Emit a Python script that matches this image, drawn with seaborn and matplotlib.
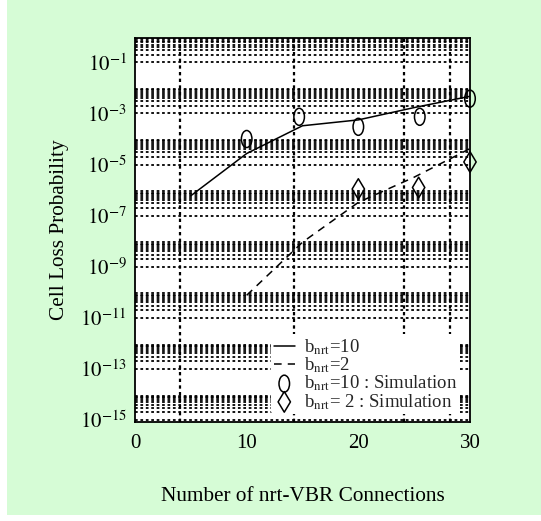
import numpy as np
import pandas as pd
import matplotlib
matplotlib.use("Agg")
import matplotlib.pyplot as plt
from matplotlib.path import Path
from matplotlib.transforms import Affine2D
import seaborn as sns

# analysis curves
conn = [5, 10, 15, 20, 25, 30]
clp_b10 = [6.0e-7, 2.7e-5, 3.3e-4, 5.6e-4, 1.7e-3, 4.7e-3]
conn_b2 = [10, 15, 20, 25, 30]
clp_b2 = [7.6e-11, 9.1e-9, 3.3e-7, 3.2e-6, 4.2e-5]

# simulation points
sim_conn_b10 = [10, 14.7, 20, 25.5, 30]
sim_clp_b10 = [1.0e-4, 7.4e-4, 3.0e-4, 7.4e-4, 3.8e-3]
sim_conn_b2 = [20, 25.4, 30]
sim_clp_b2 = [1.1e-6, 1.26e-6, 1.26e-5]

labels = [r"b$_{\mathrm{nrt}}$=10", r"b$_{\mathrm{nrt}}$=2",
          r"b$_{\mathrm{nrt}}$=10 : Simulation", r"b$_{\mathrm{nrt}}$= 2 : Simulation"]

sns.set_theme(style="white")
plt.rcParams["font.family"] = ["Liberation Serif", "DejaVu Serif"]
plt.rcParams["mathtext.fontset"] = "stix"

fig = plt.figure(figsize=(5.41, 5.21), dpi=100)
fig.patch.set_facecolor("white")
fig.patches.append(plt.Rectangle((7 / 541, 6 / 521), 1, 1, transform=fig.transFigure,
                                 facecolor="#d6fcd6", edgecolor="none", zorder=-10))
ax = fig.add_axes([135 / 541, 99 / 521, 335 / 541, 384 / 521])
ax.set_facecolor("white")

# tall ellipse marker like the original
ellipse = Path.unit_circle().transformed(Affine2D().scale(0.62, 1.0))

sns.lineplot(x=conn, y=clp_b10, ax=ax, color="black", lw=1.1, label=labels[0], zorder=5)
sns.lineplot(x=conn_b2, y=clp_b2, ax=ax, color="black", lw=1.1, linestyle=(0, (5, 4)),
             label=labels[1], zorder=5)
sns.scatterplot(x=sim_conn_b10, y=sim_clp_b10, ax=ax, marker=ellipse, s=150,
                facecolor="none", edgecolor="black", linewidth=1.1, label=labels[2],
                zorder=6, clip_on=False)
sns.scatterplot(x=sim_conn_b2, y=sim_clp_b2, ax=ax, marker="d", s=110,
                facecolor="none", edgecolor="black", linewidth=1.1, label=labels[3],
                zorder=6, clip_on=False)

ax.set_yscale("log")
ax.set_xlim(0, 30)
ax.set_ylim(10 ** -15.08, 10 ** -0.3)
ax.set_xticks([0, 10, 20, 30])
ax.set_xticks([4.0, 14.2, 24.1, 28.2], minor=True)
major_exp = np.arange(-15, 0, 2)
ax.set_yticks(10.0 ** major_exp)
ax.set_yticklabels([rf"$10^{{{e}}}$" for e in major_exp])
ax.set_yticks([k * 10.0 ** e for e in major_exp for k in range(2, 10)], minor=True)
ax.yaxis.set_minor_formatter(matplotlib.ticker.NullFormatter())

dot = (0, (1.5, 1.5))
ax.grid(True, which="both", axis="y", color="black", linestyle=dot, lw=1.3)
ax.grid(True, which="minor", axis="x", color="black", linestyle=dot, lw=1.6)
ax.set_axisbelow(True)
ax.tick_params(which="both", length=0, labelsize=15, colors="black")
ax.tick_params(axis="x", pad=9)
ax.tick_params(axis="y", pad=6)
for s in ax.spines.values():
    s.set_color("black")
    s.set_linewidth(1.3)

ax.set_xlabel("Number of nrt-VBR Connections", fontsize=15.3, labelpad=24, color="black")
ax.set_ylabel("Cell Loss Probability", fontsize=15.3, labelpad=8, color="black")

leg = ax.legend(loc="lower right", bbox_to_anchor=(0.97, 0.02), borderaxespad=0,
                frameon=True, fontsize=13.5, handlelength=1.1, handletextpad=0.5,
                labelspacing=-0.08, borderpad=0.15)
leg.get_frame().set_facecolor("white")
leg.get_frame().set_edgecolor("none")
leg.get_frame().set_alpha(1)

fig.savefig("out.png", dpi=100, facecolor=fig.get_facecolor())
